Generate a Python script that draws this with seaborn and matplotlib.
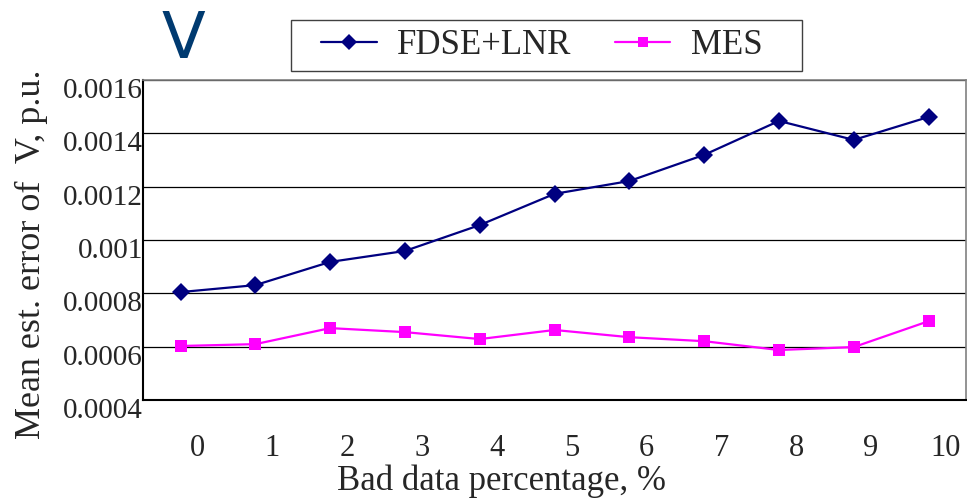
import matplotlib
matplotlib.use("Agg")
import matplotlib.pyplot as plt
import matplotlib.transforms as mtransforms
import numpy as np
import pandas as pd
import seaborn as sns

bad_data_pct = [0, 1, 2, 3, 4, 5, 6, 7, 8, 9, 10]
fdse_lnr = [0.000805, 0.000831, 0.000918, 0.000959, 0.001056, 0.001173,
            0.001221, 0.001319, 0.001446, 0.001375, 0.001461]
mes = [0.000603, 0.000610, 0.000670, 0.000655, 0.000629, 0.000663,
       0.000636, 0.000621, 0.000588, 0.000599, 0.000696]
y_ticks = [0.0004, 0.0006, 0.0008, 0.001, 0.0012, 0.0014, 0.0016]
y_tick_labels = ["0.0004", "0.0006", "0.0008", "0.001", "0.0012", "0.0014", "0.0016"]

df = pd.DataFrame({
    "pct": bad_data_pct * 2,
    "err": fdse_lnr + mes,
    "method": ["FDSE+LNR"] * len(bad_data_pct) + ["MES"] * len(bad_data_pct),
})

sns.set_style("white")
plt.rcParams["font.family"] = ["Liberation Serif", "DejaVu Serif"]

fig = plt.figure(figsize=(9.67, 4.99), dpi=100)
ax = fig.add_axes([0.148, 0.198, 0.851, 0.642])

palette = {"FDSE+LNR": "#000080", "MES": "#ff00ff"}
sns.lineplot(data=df, x="pct", y="err", hue="method", style="method",
             palette=palette, markers={"FDSE+LNR": "D", "MES": "s"},
             dashes=False, markersize=9, linewidth=1.6,
             markeredgewidth=0, ax=ax)

ax.set_xlim(-0.5, 10.5)
ax.set_ylim(0.0004, 0.0016)
ax.set_yticks(y_ticks)
ax.set_yticklabels(y_tick_labels)
ax.yaxis.grid(True, color="black", linewidth=0.9)
ax.set_axisbelow(True)

ax.set_xticks(bad_data_pct)
ax.set_xticklabels([str(v) for v in bad_data_pct])
ax.set_xticks(np.arange(0.5, 10, 1), minor=True)
ax.tick_params(axis="x", which="major", length=0, labelsize=22, pad=24)
ax.tick_params(axis="x", which="minor", direction="in", length=7, width=1, color="black")
ax.tick_params(axis="y", length=0, labelsize=21, pad=0)

offset_x = mtransforms.ScaledTranslation(0.17, 0, fig.dpi_scale_trans)
for lab in ax.get_xticklabels():
    lab.set_transform(lab.get_transform() + offset_x)
offset_y = mtransforms.ScaledTranslation(0, -0.08, fig.dpi_scale_trans)
for lab in ax.get_yticklabels():
    lab.set_transform(lab.get_transform() + offset_y)

for side in ["left", "bottom"]:
    ax.spines[side].set_color("black")
    ax.spines[side].set_linewidth(1.5)
for side in ["top", "right"]:
    ax.spines[side].set_color("#808080")
    ax.spines[side].set_linewidth(1.2)

ax.set_xlabel("Bad data percentage, %", fontsize=25)
ax.xaxis.set_label_coords(0.436, -0.202)
ax.set_ylabel("Mean est. error of  V, p.u.", fontsize=26)
ax.yaxis.set_label_coords(-0.115, 0.455)

# legend entries without frame, box drawn separately
handles, labels = ax.get_legend_handles_labels()
leg = fig.legend(handles, labels, ncol=2, loc="center left",
                 bbox_to_anchor=(321 / 967, 1 - 45.5 / 499), fontsize=25,
                 frameon=False, handlelength=1.6, handletextpad=0.6,
                 columnspacing=1.24, borderpad=0, borderaxespad=0,
                 markerscale=0.85)
if ax.get_legend() is not None:
    ax.get_legend().remove()
fig.add_artist(plt.Rectangle((291 / 967, 1 - 71 / 499), 511 / 967, 51 / 499,
                             transform=fig.transFigure, fill=False,
                             edgecolor="#404040", linewidth=1.0))

fig.text(0.19, 0.92, "V", fontsize=46, color="#003a70",
         family="DejaVu Sans", ha="center", va="center")

fig.savefig("out.png", dpi=100)
